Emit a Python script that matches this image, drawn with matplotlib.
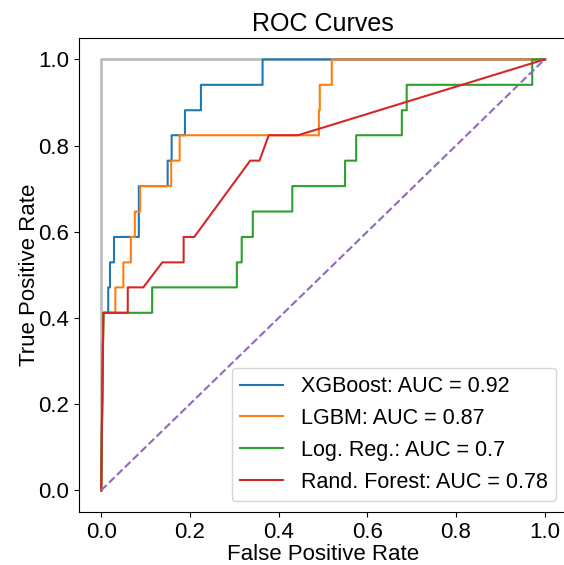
import numpy as np
from matplotlib import pyplot as plt

plt.rcParams['font.family'] = ['Liberation Sans', 'DejaVu Sans']

# roc points (17 positives -> steps of 1/17)
xgb_fpr = [0, 0.005, 0.016, 0.016, 0.02, 0.02, 0.029, 0.029, 0.085, 0.085, 0.15, 0.15,
           0.159, 0.159, 0.189, 0.189, 0.225, 0.225, 0.364, 0.364, 1.0]
xgb_tpr = [0, 0.412, 0.412, 0.471, 0.471, 0.529, 0.529, 0.588, 0.588, 0.706, 0.706, 0.765,
           0.765, 0.824, 0.824, 0.882, 0.882, 0.941, 0.941, 1.0, 1.0]

lgbm_fpr = [0, 0.005, 0.032, 0.032, 0.05, 0.05, 0.067, 0.067, 0.076, 0.076, 0.088, 0.088,
            0.158, 0.158, 0.177, 0.177, 0.491, 0.491, 0.493, 0.493, 0.52, 0.52, 1.0]
lgbm_tpr = [0, 0.412, 0.412, 0.471, 0.471, 0.529, 0.529, 0.588, 0.588, 0.647, 0.647, 0.706,
            0.706, 0.765, 0.765, 0.824, 0.824, 0.882, 0.882, 0.941, 0.941, 1.0, 1.0]

lr_fpr = [0, 0.005, 0.115, 0.115, 0.306, 0.306, 0.317, 0.317, 0.342, 0.342, 0.431, 0.431,
          0.55, 0.55, 0.575, 0.575, 0.678, 0.678, 0.689, 0.689, 0.972, 0.972, 1.0]
lr_tpr = [0, 0.412, 0.412, 0.471, 0.471, 0.529, 0.529, 0.588, 0.588, 0.647, 0.647, 0.706,
          0.706, 0.765, 0.765, 0.824, 0.824, 0.882, 0.882, 0.941, 0.941, 1.0, 1.0]

rf_fpr = [0, 0.005, 0.06, 0.06, 0.095, 0.138, 0.186, 0.186, 0.21, 0.336, 0.357, 0.378, 0.444, 1.0]
rf_tpr = [0, 0.412, 0.412, 0.471, 0.471, 0.529, 0.529, 0.588, 0.588, 0.765, 0.765, 0.824, 0.824, 1.0]

names = ['XGBoost', 'LGBM', 'Log. Reg.', 'Rand. Forest']
aucs = ['0.92', '0.87', '0.7', '0.78']
colors = ['tab:blue', 'tab:orange', 'tab:green', 'tab:red']

fig = plt.figure(figsize=(5.64, 5.65), dpi=100)
ax = fig.add_axes([0.140, 0.094, 0.865, 0.839])

# perfect classifier
ax.plot([0, 0, 1], [0, 1, 1], color='#bdbdbd', lw=2)

curves = [(xgb_fpr, xgb_tpr), (lgbm_fpr, lgbm_tpr), (lr_fpr, lr_tpr), (rf_fpr, rf_tpr)]
for (f, t), n, a, c in zip(curves, names, aucs, colors):
    ax.plot(f, t, color=c, lw=1.5, label=f'{n}: AUC = {a}')

ax.plot([0, 1], [0, 1], color='tab:purple', ls='--', lw=1.5)

ax.set_xlim(-0.05, 1.05)
ax.set_ylim(-0.05, 1.05)
ax.set_xticks(np.arange(0, 1.01, 0.2))
ax.set_yticks(np.arange(0, 1.01, 0.2))
ax.tick_params(labelsize=16)
ax.set_xlabel('False Positive Rate', fontsize=16, labelpad=1)
ax.set_ylabel('True Positive Rate', fontsize=16, labelpad=-1)
ax.set_title('ROC Curves', fontsize=18, pad=5)
ax.legend(loc='lower right', fontsize=15.5)

fig.savefig('out.png', dpi=100)
